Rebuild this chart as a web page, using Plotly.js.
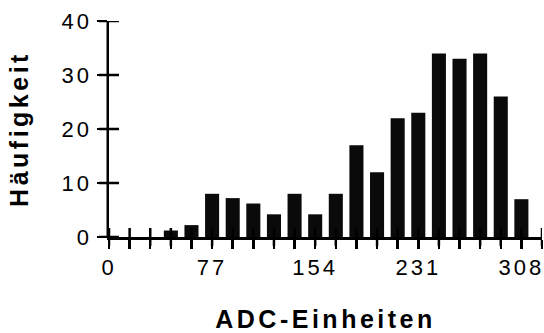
<!DOCTYPE html>
<html>
<head>
<meta charset="utf-8">
<script src="https://cdn.plot.ly/plotly-3.0.1.min.js"></script>
<style>
  html, body { margin: 0; padding: 0; background: #fff; }
  #chart { width: 544px; height: 333px; }
  .xtick text, .ytick text { letter-spacing: 3px; }
  .xtitle, .ytitle { letter-spacing: 3.5px; }
</style>
</head>
<body>
<div id="chart"></div>
<script>
// ADC channel (bin centres) and counts
const adcBins = [0, 15.4, 30.8, 46.2, 61.6, 77, 92.4, 107.8, 123.2, 138.6, 154,
                 169.4, 184.8, 200.2, 215.6, 231, 246.4, 261.8, 277.2, 292.6, 308];
const counts  = [0, 0, 0, 1.2, 2.2, 8, 7.2, 6.2, 4.2, 8, 4.2,
                 8, 17, 12, 22, 23, 34, 33, 34, 26, 7];
// x tick marks (every bin) and labels
const xTickVals = [0, 15.4, 30.8, 46.2, 61.6, 77, 92.4, 107.8, 123.2, 138.6, 154,
                   169.4, 184.8, 200.2, 215.6, 231, 246.4, 261.8, 277.2, 292.6, 308, 323.4];
const xTickText = ["0", "", "", "", "", "77", "", "", "", "", "154",
                   "", "", "", "", "231", "", "", "", "", "308", ""];
const yTickVals = [0, 10, 20, 30, 40];
const yTickText = ["0", "10", "20", "30", "40"];
const xTitle = "ADC-Einheiten";
const yTitle = "Häufigkeit";

const font = "Liberation Sans, Arial, Helvetica, sans-serif";
const xRange = [0, 323.4];
const yRange = [0, 40];
const tickW = 2.5;
const lineW = 2.5;

const traces = [{
  type: "bar",
  x: adcBins,
  y: counts,
  width: 10.5,
  marker: { color: "#0a0a0a", line: { width: 0 } },
  hoverinfo: "x+y"
}];

// inner halves of the crossing tick marks; one reference is 'paper' so the
// shapes are not clipped to the plot area
const axisMarks = [];
xTickVals.forEach(v => axisMarks.push({
  type: "line", layer: "above",
  xref: "x", yref: "paper", ysizemode: "pixel", yanchor: 0,
  x0: v, x1: v, y0: -9, y1: 9,
  line: { color: "#000", width: tickW }
}));
yTickVals.forEach(v => axisMarks.push({
  type: "line", layer: "above",
  xref: "paper", yref: "y", xsizemode: "pixel", xanchor: 0,
  x0: -10, x1: 10, y0: v, y1: v,
  line: { color: "#000", width: tickW }
}));
// vertical axis line along the left edge of the plot area
axisMarks.push({
  type: "line", layer: "above",
  xref: "paper", yref: "paper", xsizemode: "pixel", xanchor: 0,
  x0: -lineW / 2, x1: -lineW / 2, y0: 0, y1: 1,
  line: { color: "#000", width: lineW }
});

const layout = {
  width: 544,
  height: 333,
  margin: { l: 109, r: 2, t: 21, b: 96 },
  paper_bgcolor: "#fff",
  plot_bgcolor: "#fff",
  showlegend: false,
  font: { family: font, color: "#000" },
  shapes: axisMarks,
  xaxis: {
    range: xRange,
    tickmode: "array",
    tickvals: xTickVals,
    ticktext: xTickText,
    ticks: "outside",
    ticklen: 9,
    tickwidth: tickW,
    tickcolor: "#000",
    showline: true,
    linewidth: lineW,
    linecolor: "#000",
    showgrid: false,
    zeroline: false,
    ticklabeloverflow: "allow",
    tickfont: { family: font, size: 22, color: "#000" },
    title: { text: xTitle, font: { family: font, size: 25, color: "#000", weight: "bold" }, standoff: 32 }
  },
  yaxis: {
    range: yRange,
    tickmode: "array",
    tickvals: yTickVals,
    ticktext: yTickText,
    ticks: "outside",
    ticklen: 10,
    tickwidth: tickW,
    tickcolor: "#000",
    showline: true,
    linewidth: lineW,
    linecolor: "#000",
    showgrid: false,
    zeroline: false,
    ticklabeloverflow: "allow",
    tickfont: { family: font, size: 22, color: "#000" },
    title: { text: yTitle, font: { family: font, size: 25, color: "#000", weight: "bold" }, standoff: 26 }
  }
};

Plotly.newPlot("chart", traces, layout, { staticPlot: true, displayModeBar: false });
</script>
</body>
</html>
